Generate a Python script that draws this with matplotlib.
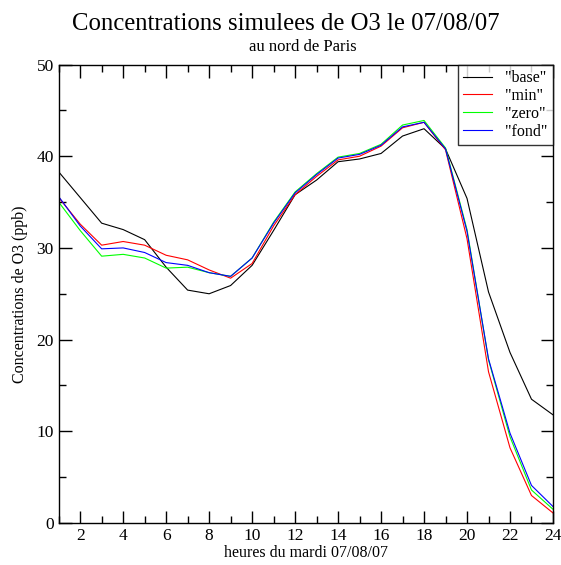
import matplotlib
matplotlib.use("Agg")
import matplotlib.pyplot as plt
import numpy as np

plt.rcParams['font.family'] = ['Liberation Serif', 'DejaVu Serif']

# heures et concentrations
heures = np.arange(1, 25)
base = [38.3, 35.5, 32.7, 32.0, 30.9, 27.9, 25.4, 25.0, 25.9, 28.1, 31.9, 35.8,
        37.4, 39.4, 39.7, 40.3, 42.2, 43.0, 40.8, 35.4, 25.2, 18.6, 13.5, 11.8]
mini = [35.5, 32.6, 30.3, 30.7, 30.3, 29.2, 28.7, 27.6, 26.7, 28.3, 32.4, 35.8,
        37.8, 39.6, 40.0, 41.1, 43.1, 43.7, 40.7, 31.0, 16.5, 8.2, 3.0, 1.1]
zero = [35.0, 31.9, 29.1, 29.3, 28.9, 27.8, 27.9, 27.3, 26.9, 28.9, 32.8, 36.1,
        38.1, 39.9, 40.3, 41.3, 43.4, 43.9, 40.9, 32.0, 17.8, 9.4, 3.6, 1.5]
fond = [35.6, 32.4, 29.9, 30.0, 29.5, 28.4, 28.1, 27.3, 26.9, 28.9, 32.7, 36.0,
        38.0, 39.8, 40.2, 41.2, 43.2, 43.7, 40.8, 31.8, 17.9, 9.8, 4.1, 1.8]

fig = plt.figure(figsize=(5.61, 5.65), dpi=100)
ax = fig.add_axes([0.1046, 0.0743, 0.8811, 0.8115])

ax.plot(heures, base, color="black", lw=0.8, label='"base"')
ax.plot(heures, mini, color="red", lw=0.8, label='"min"')
ax.plot(heures, zero, color="#00ff00", lw=0.8, label='"zero"')
ax.plot(heures, fond, color="blue", lw=0.8, label='"fond"')

ax.set_xlim(1, 24)
ax.set_ylim(0, 50)
ax.set_xticks(np.arange(2, 25, 2))
ax.set_xticks(np.arange(1, 25, 1), minor=True)
ax.set_yticks(np.arange(0, 51, 10))
ax.set_yticks(np.arange(0, 51, 5), minor=True)
ax.tick_params(which="both", direction="in", top=True, right=True,
               labelsize=12.5, colors="black")
ax.tick_params(which="major", length=9, width=1)
ax.tick_params(which="minor", length=5, width=1)
for s in ax.spines.values():
    s.set_linewidth(1)

ax.set_xlabel("heures du mardi 07/08/07", fontsize=11.5, labelpad=1)
ax.set_ylabel("Concentrations de O3 (ppb)", fontsize=11.5, labelpad=6)

fig.text(0.51, 0.958, "Concentrations simulees de O3 le 07/08/07",
         ha="center", va="center", fontsize=17.8)
fig.text(0.54, 0.917, "au nord de Paris", ha="center", va="center", fontsize=12)

leg = ax.legend(loc="upper right", fontsize=11.5, frameon=True, fancybox=False,
                borderaxespad=0, handlelength=1.8, labelspacing=0.12,
                borderpad=0.35, handletextpad=0.8)
leg.get_frame().set_edgecolor("black")
leg.get_frame().set_linewidth(1)

fig.savefig("out.png", dpi=100)
